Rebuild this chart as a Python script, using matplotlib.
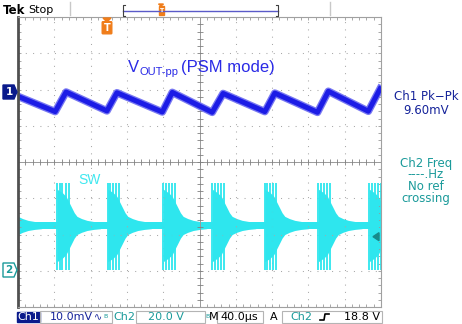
import numpy as np
import matplotlib.pyplot as plt
from matplotlib.patches import Polygon, Rectangle, FancyBboxPatch

# time base: 40 us/div, 10 div
# Ch1 (10 mV/div) keypoints, mV relative to the Ch1 marker
ch1_t = [0, 41, 53, 98, 109, 159, 170, 214, 226, 272, 283, 330, 342, 386, 399]
ch1_mv = [-1.2, -5.4, 0.0, -5.2, -0.2, -5.5, -0.1, -5.6, -0.4, -5.4, -0.3, -5.6, 0.2, -5.3, 0.9]
ch1_offset = 1.93  # divisions

# Ch2 (20 V/div) SW node, ground marker at -3 div
ch2_offset = -3.0
sw_base = 25.0
sw_noise = 1.7
burst_start = [-22, 43, 99, 160, 214, 272, 331, 387]
env_t = [0, 6, 10, 13, 16, 19, 22, 27, 33, 40, 48]
env_amp = [20, 18, 16, 13, 10, 7, 5, 3.8, 2.8, 2.2, 1.8]
spike_dt = [0, 2.8, 6.0, 9.4, 12.7]
spike_hi = 48.5
spike_lo = 0.5
trig_level = 18.8

blue = '#1c1ce6'
cyan = '#2ee6ee'
teal = '#1a9a9a'
navy = '#15239a'
orange = '#f07d1a'
gray = '#9a9a9a'


def d1(v):
    return np.asarray(v) / 10.0 + ch1_offset


def d2(v):
    return np.asarray(v) / 20.0 + ch2_offset


fig = plt.figure(figsize=(4.62, 3.24), dpi=100)
ax = fig.add_axes([18 / 462, (324 - 307) / 324, 363 / 462, 290 / 324])
ax.set_xlim(0, 400)
ax.set_ylim(-4, 4)
ax.set_xticks(np.arange(0, 401, 40))
ax.set_xticks(np.arange(0, 401, 8), minor=True)
ax.set_yticks(np.arange(-4, 5, 1))
ax.set_yticks(np.arange(-4, 4.01, 0.2), minor=True)
ax.tick_params(which='both', direction='in', length=2.5, width=0.6, color=gray,
               top=True, right=True, labelbottom=False, labelleft=False)
ax.grid(which='major', color='#a8a8a8', linestyle=(0, (1, 6)), lw=0.75)
for s in ['top', 'right', 'bottom']:
    ax.spines[s].set_color('#a0a0a0')
    ax.spines[s].set_linewidth(0.8)
ax.spines['left'].set_color('#505050')
ax.spines['left'].set_linewidth(2.0)

# center crosshair with ticks
ax.axhline(0, color=gray, lw=0.7)
ax.axvline(200, color=gray, lw=0.7)
xt = np.arange(0, 401, 8)
yt = np.arange(-4, 4.01, 0.2)
ax.plot(xt, np.zeros_like(xt), ls='none', marker='|', ms=4, mew=0.6, color='#808080')
ax.plot(np.full_like(yt, 200), yt, ls='none', marker='_', ms=4, mew=0.6, color='#808080')

# Ch2 SW trace
ax.fill_between([0, 400], d2(sw_base - sw_noise), d2(sw_base + sw_noise), color=cyan, lw=0)
for s in burst_start:
    ts = s + np.array(env_t)
    ax.fill_between(ts, d2(sw_base - np.array(env_amp)), d2(sw_base + np.array(env_amp)),
                    color=cyan, lw=0)
    ax.vlines(s + np.array(spike_dt), d2(spike_lo), d2(spike_hi), color=cyan, lw=1.3)

# Ch1 output ripple
ax.plot(ch1_t, d1(ch1_mv), color='#7878f2', lw=5.5, solid_joinstyle='round')
ax.plot(ch1_t, d1(ch1_mv), color=blue, lw=3.6, solid_joinstyle='round')

# overlay in pixel coordinates
ov = fig.add_axes([0, 0, 1, 1], zorder=5)
ov.set_xlim(0, 462)
ov.set_ylim(324, 0)
ov.axis('off')
ov.patch.set_alpha(0)

# top status line
ov.text(3, 10, 'Tek', fontsize=8.5, fontweight='bold', va='center', ha='left')
ov.text(28, 10, 'Stop', fontsize=8, va='center', ha='left')
for x in [70, 330]:
    ov.plot([x, x], [2, 15], color='#c8c8c8', lw=1)
ov.plot([123, 278], [11, 11], color='#5a5ac8', lw=1)
ov.plot([125, 123, 123, 125], [5, 5, 16, 16], color='#404040', lw=0.8)
ov.plot([276, 278, 278, 276], [5, 5, 16, 16], color='#404040', lw=0.8)
ov.add_patch(Polygon([(158.5, 4), (163.5, 4), (161, 6)], color=orange))
ov.add_patch(Rectangle((158.5, 6), 5, 9, color=orange))
ov.text(161, 10.5, 'T', fontsize=4.5, color='white', ha='center', va='center', fontweight='bold')

# trigger position marker
ov.add_patch(Polygon([(103, 18), (111, 18), (107, 22)], color=orange))
ov.add_patch(FancyBboxPatch((103, 22.5), 8, 10.5, boxstyle='round,pad=0.8', color=orange))
ov.text(107, 28, 'T', fontsize=7, color='white', ha='center', va='center', fontweight='bold')

# channel markers
ov.add_patch(Polygon([(3, 85), (14, 85), (17, 92), (14, 99), (3, 99)], color='#0a1a8c'))
ov.text(9, 92, '1', fontsize=7.5, color='white', ha='center', va='center', fontweight='bold')
ov.add_patch(Polygon([(3, 263), (14, 263), (17, 270), (14, 277), (3, 277)],
                     facecolor='white', edgecolor=teal, lw=1))
ov.text(9, 270, '2', fontsize=7.5, color=teal, ha='center', va='center', fontweight='bold')

# trigger level arrow
ly = 162 - d2(trig_level) * 36.25
ov.add_patch(Polygon([(373, ly), (379, ly - 4), (379, ly + 4)], color='#178a8a'))

# in-plot labels
ov.text(128, 72, 'V', fontsize=12, color='#2a2ae6', family='Liberation Sans', va='baseline')
ov.text(139.5, 75, 'OUT-pp', fontsize=8, color='#2a2ae6', family='Liberation Sans', va='baseline')
ov.text(181, 72, '(PSM mode)', fontsize=12, color='#2a2ae6', family='Liberation Sans', va='baseline')
ov.text(78, 184, 'SW', fontsize=10, color='#40e8f0', family='Liberation Sans', va='baseline')

# measurement readouts
ov.text(426, 97, 'Ch1 Pk\u2212Pk', fontsize=8.5, color=navy, ha='center', va='center')
ov.text(426, 110, '9.60mV', fontsize=8.5, color=navy, ha='center', va='center')
for i, s in enumerate(['Ch2 Freq', '----.Hz', 'No ref', 'crossing']):
    ov.text(426, 163 + i * 11.7, s, fontsize=8.5, color=teal, ha='center', va='center')

# bottom status line
by = 317
ov.add_patch(Rectangle((16.5, 311.5), 23.5, 10.5, color='#0a1a8c'))
ov.text(28, by, 'Ch1', fontsize=8, color='white', ha='center', va='center')
for x0, x1 in [(40, 112), (136, 205), (217, 263), (282, 382)]:
    ov.add_patch(Rectangle((x0, 311), x1 - x0, 11.5, fill=False, edgecolor='#b4b4b4', lw=0.8))
ov.text(50, by, '10.0mV', fontsize=8, color=navy, ha='left', va='center')
ov.text(94, by, '\u223f', fontsize=7, color=navy, ha='left', va='center')
ov.text(103, by, 'B', fontsize=4.5, color=teal, ha='left', va='center')
ov.text(113, by, 'Ch2', fontsize=8, color=teal, ha='left', va='center')
ov.text(148, by, '20.0 V', fontsize=8, color=teal, ha='left', va='center')
ov.text(205, by, 'B', fontsize=4.5, color=teal, ha='left', va='center')
ov.text(209, by, 'M', fontsize=8, color='black', ha='left', va='center')
ov.text(220, by, '40.0\u00b5s', fontsize=8, color='black', ha='left', va='center')
ov.text(270, by, 'A', fontsize=8, color='black', ha='left', va='center')
ov.text(290, by, 'Ch2', fontsize=8, color=teal, ha='left', va='center')
ov.plot([320, 324, 325, 329], [320, 320, 314, 314], color='black', lw=1.2)
ov.text(380, by, '18.8 V', fontsize=8, color='black', ha='right', va='center')

fig.savefig('out.png', dpi=100)
